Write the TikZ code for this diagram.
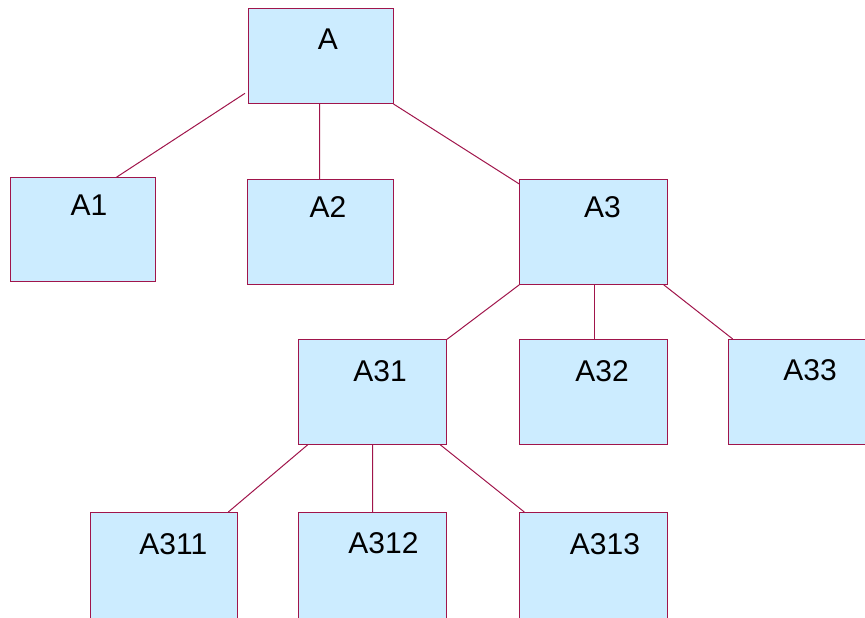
\documentclass[tikz,border=0pt]{standalone}
\usepackage{fontspec}
\setmainfont{Liberation Sans}
\usetikzlibrary{backgrounds}
\definecolor{boxfill}{HTML}{CCECFF}
\definecolor{boxline}{HTML}{A0154B}
\begin{document}
\begin{tikzpicture}[x=1bp,y=-1bp,
  box/.style={draw=boxline, fill=boxfill, line width=1bp, rectangle, anchor=north west, inner sep=0pt},
  lbl/.style={anchor=base, inner sep=0pt, font=\fontsize{30bp}{36bp}\selectfont},
  conn/.style={draw=boxline, line width=1bp}]
\useasboundingbox (0,0) rectangle (865,618);
\clip (0,0) rectangle (865,618);
% boxes
\node[box, minimum width=145bp, minimum height=94.5bp] (A) at (247.5,8.5) {};
\node[box, minimum width=145bp, minimum height=104.5bp] (A1) at (10,176.7) {};
\node[box, minimum width=145.5bp, minimum height=105bp] (A2) at (247.3,179) {};
\node[box, minimum width=148bp, minimum height=104.5bp] (A3) at (519.3,179.3) {};
\node[box, minimum width=147.7bp, minimum height=104.5bp] (A31) at (298.3,339.3) {};
\node[box, minimum width=148bp, minimum height=104.5bp] (A32) at (519.3,339.3) {};
\node[box, minimum width=148bp, minimum height=105bp] (A33) at (728,339) {};
\node[box, minimum width=147.3bp, minimum height=130bp] (A311) at (90,512) {};
\node[box, minimum width=147.5bp, minimum height=130bp] (A312) at (298.3,512.3) {};
\node[box, minimum width=148bp, minimum height=130bp] (A313) at (519.3,512) {};
% labels
\node[lbl] (tA) at (327.8,50) {A};
\node[lbl] (tA1) at (89,216) {A1};
\node[lbl] (tA2) at (328,217.7) {A2};
\node[lbl] (tA3) at (602.5,217.7) {A3};
\node[lbl] (tA31) at (380,381) {A31};
\node[lbl] (tA32) at (602,381) {A32};
\node[lbl] (tA33) at (810,380.5) {A33};
\node[lbl] (tA311) at (173.3,554) {A311};
\node[lbl] (tA312) at (383.5,553.5) {A312};
\node[lbl] (tA313) at (605,554) {A313};
% connectors
\begin{scope}[on background layer]
\draw[conn] ([xshift=-2.5bp,yshift=10.7bp]A.south west) -- ([xshift=103.3bp,yshift=-2.6bp]A1.north west);
\draw[conn] ([xshift=-1bp]A.south) -- ([xshift=-1bp]A2.north);
\draw[conn] (A.south east) -- ([yshift=-4.7bp]A3.north west);
\draw[conn] (A3.south west) -- (A31.north east);
\draw[conn] ([xshift=0.4bp]A3.south) -- ([xshift=0.4bp]A32.north);
\draw[conn] ([xshift=-4.6bp]A3.south east) -- ([xshift=4.7bp]A33.north west);
\draw[conn] ([xshift=9.4bp]A31.south west) -- ([xshift=-10bp]A311.north east);
\draw[conn] (A31.south) -- (A312.north);
\draw[conn] ([xshift=-6.7bp]A31.south east) -- ([xshift=5bp]A313.north west);
\end{scope}
\end{tikzpicture}
\end{document}
